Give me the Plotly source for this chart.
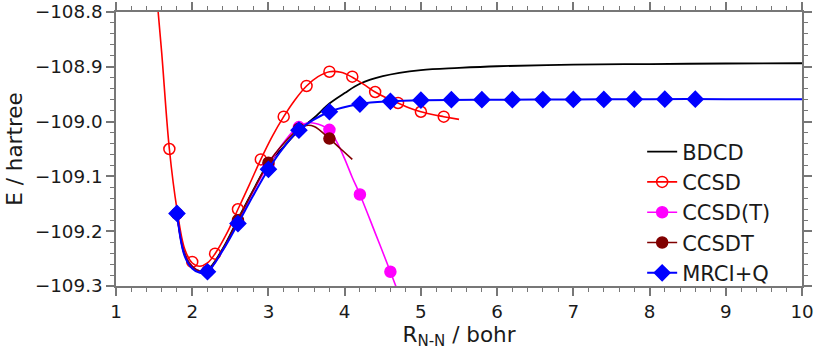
import plotly.graph_objects as go

# R(N-N) in bohr, energies in hartree

# BDCD (line only)
bdcd_r = [1.8, 1.9, 2.0, 2.1, 2.2, 2.4, 2.6, 2.8, 3.0, 3.2, 3.4, 3.6, 3.8, 4.0, 4.2,
          4.5, 5.0, 5.5, 6.0, 7.0, 8.0, 9.0, 10.0]
bdcd_e = [-109.168, -109.240, -109.265, -109.273, -109.271, -109.232, -109.178, -109.125,
          -109.076, -109.046, -109.016, -108.993, -108.967, -108.948, -108.931,
          -108.917, -108.906, -108.902, -108.899, -108.896, -108.895, -108.894, -108.8935]

# CCSD
ccsd_r = [1.7, 2.0, 2.3, 2.6, 2.9, 3.2, 3.5, 3.8, 4.1, 4.4, 4.7, 5.0, 5.3]
ccsd_e = [-109.050, -109.256, -109.241, -109.160, -109.069, -108.991, -108.935, -108.909,
          -108.918, -108.946, -108.966, -108.982, -108.991]
ccsd_fit_r = [1.55, 1.6, 1.7, 1.8, 1.9, 2.0, 2.1, 2.2, 2.3, 2.45, 2.6, 2.75, 2.9, 3.05,
              3.2, 3.35, 3.5, 3.65, 3.8, 3.95, 4.1, 4.25, 4.4, 4.55, 4.7, 4.85, 5.0,
              5.15, 5.3, 5.5]
ccsd_fit_e = [-108.795, -108.875, -109.050, -109.160, -109.232, -109.258, -109.264, -109.258,
              -109.241, -109.205, -109.160, -109.115, -109.069, -109.027, -108.991,
              -108.960, -108.935, -108.918, -108.909, -108.910, -108.919, -108.932,
              -108.946, -108.957, -108.966, -108.975, -108.982, -108.987, -108.991, -108.996]

# CCSD(T)
ccsdt_p_r = [1.8, 2.2, 2.6, 3.0, 3.4, 3.8, 4.2, 4.6]
ccsdt_p_e = [-109.168, -109.273, -109.183, -109.079, -109.010, -109.015, -109.133, -109.274]
ccsdt_p_fit_r = [1.8, 1.9, 2.0, 2.1, 2.2, 2.4, 2.6, 2.8, 3.0, 3.2, 3.4, 3.55, 3.7, 3.8,
                 3.9, 4.0, 4.1, 4.2, 4.4, 4.6, 4.75]
ccsdt_p_fit_e = [-109.168, -109.243, -109.264, -109.273, -109.273, -109.235, -109.183,
                 -109.128, -109.079, -109.038, -109.008, -109.002, -109.007, -109.015,
                 -109.038, -109.068, -109.102, -109.133, -109.203, -109.274, -109.330]

# CCSDT
ccsdt_r = [1.8, 2.2, 2.6, 3.0, 3.4, 3.8]
ccsdt_e = [-109.168, -109.273, -109.180, -109.075, -109.013, -109.031]
ccsdt_fit_r = [1.8, 1.9, 2.0, 2.1, 2.2, 2.4, 2.6, 2.8, 3.0, 3.2, 3.4, 3.5, 3.6, 3.8,
               3.95, 4.1]
ccsdt_fit_e = [-109.168, -109.243, -109.264, -109.273, -109.273, -109.233, -109.180,
               -109.126, -109.075, -109.040, -109.013, -109.007, -109.009, -109.031,
               -109.050, -109.069]

# MRCI+Q
mrci_r = [1.8, 2.2, 2.6, 3.0, 3.4, 3.8, 4.2, 4.6, 5.0, 5.4, 5.8, 6.2, 6.6, 7.0, 7.4,
          7.8, 8.2, 8.6]
mrci_e = [-109.1675, -109.274, -109.186, -109.087, -109.0156, -108.982, -108.968,
          -108.963, -108.961, -108.960, -108.960, -108.960, -108.9598, -108.9595,
          -108.9595, -108.959, -108.959, -108.959]
mrci_fit_r = [1.8, 1.9, 2.0, 2.1, 2.2, 2.4, 2.6, 2.8, 3.0, 3.2, 3.4, 3.8, 4.2, 4.6,
              5.0, 6.0, 7.0, 8.0, 9.0, 10.0]
mrci_fit_e = [-109.1675, -109.245, -109.268, -109.276, -109.274, -109.235, -109.186,
              -109.135, -109.087, -109.047, -109.0156, -108.982, -108.968, -108.963,
              -108.961, -108.960, -108.9595, -108.959, -108.959, -108.959]

# tick labels
y_ticks = [-109.3, -109.2, -109.1, -109.0, -108.9, -108.8]
y_labels = ["\u2212109.3", "\u2212109.2", "\u2212109.1", "\u2212109.0", "\u2212108.9", "\u2212108.8"]

FONT = "DejaVu Sans"
TXT = "#1a1a1a"
AX = "#777777"

fig = go.Figure()


def add_method(name, color, fit_r, fit_e, r=None, e=None, symbol=None, size=10,
               fill=None, width=1.6):
    # fitted curve
    fig.add_trace(go.Scatter(x=fit_r, y=fit_e, mode="lines", line_shape="spline",
                             line=dict(color=color, width=width),
                             showlegend=False, hoverinfo="skip"))
    marker = None
    if r is not None:
        marker = dict(symbol=symbol, size=size, color=fill if fill else color,
                      line=dict(color=color, width=1.5))
        # computed points
        fig.add_trace(go.Scatter(x=r, y=e, mode="markers", marker=marker,
                                 showlegend=False, name=name))
    # legend entry: line + marker
    fig.add_trace(go.Scatter(x=[None], y=[None], name=name,
                             mode="lines+markers" if marker else "lines",
                             line=dict(color=color, width=width),
                             marker=marker))


add_method("BDCD", "black", bdcd_r, bdcd_e, width=1.8)
add_method("CCSD", "#ff0000", ccsd_fit_r, ccsd_fit_e, ccsd_r, ccsd_e,
           symbol="circle-open", size=11)
add_method("CCSD(T)", "#ff00ff", ccsdt_p_fit_r, ccsdt_p_fit_e, ccsdt_p_r, ccsdt_p_e,
           symbol="circle", size=11)
add_method("CCSDT", "#800000", ccsdt_fit_r, ccsdt_fit_e, ccsdt_r, ccsdt_e,
           symbol="circle", size=11)
add_method("MRCI+Q", "#0000ff", mrci_fit_r, mrci_fit_e, mrci_r, mrci_e,
           symbol="diamond", size=12, width=2)

axis_common = dict(
    showline=True, linecolor=AX, linewidth=1.5, mirror="ticks",
    ticks="outside", ticklen=8, tickwidth=1.5, tickcolor=AX,
    showgrid=False, zeroline=False, automargin=False, ticklabeloverflow="allow",
    tickfont=dict(family=FONT, size=18.3, color=TXT),
)

fig.update_xaxes(range=[1, 10], dtick=1, tick0=1,
                 minor=dict(ticks="outside", ticklen=4, dtick=0.2, tickcolor=AX,
                            tickwidth=1.2),
                 title=dict(text="R<sub>N-N</sub> / bohr",
                            font=dict(family=FONT, size=21.5, color=TXT),
                            standoff=4),
                 **axis_common)
fig.update_yaxes(range=[-109.3, -108.8], tickvals=y_ticks, ticktext=y_labels,
                 minor=dict(ticks="outside", ticklen=4, dtick=0.02, tickcolor=AX,
                            tickwidth=1.2),
                 title=dict(text="E / hartree",
                            font=dict(family=FONT, size=21.5, color=TXT),
                            standoff=6),
                 **axis_common)

fig.update_layout(
    width=830, height=353,
    margin=dict(l=116, r=28, t=12, b=67),
    plot_bgcolor="white", paper_bgcolor="white",
    font=dict(family=FONT, size=21, color=TXT),
    legend=dict(x=0.767, y=0.564, xanchor="left", yanchor="top",
                bgcolor="rgba(0,0,0,0)", font=dict(family=FONT, size=21, color=TXT),
                tracegroupgap=0),
    showlegend=True,
)

# drop the default page margin so the figure fills the window exactly
fig.write_html("out.html", config={"displayModeBar": False},
               post_script="document.body.style.margin = '0';")
